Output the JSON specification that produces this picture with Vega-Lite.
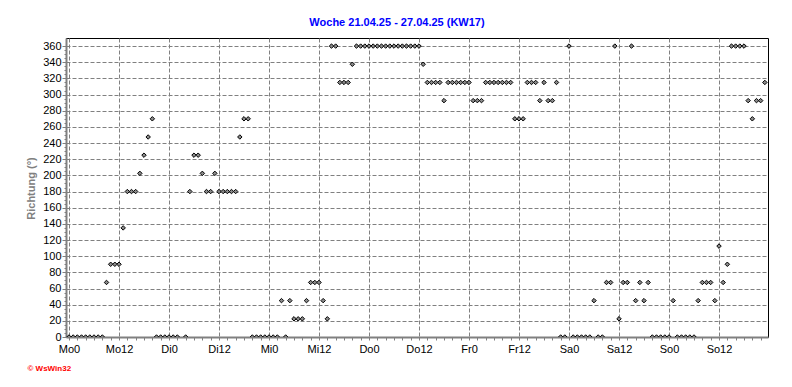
{
  "$schema": "https://vega.github.io/schema/vega-lite/v6.json",
  "autosize": "none",
  "width": 702,
  "height": 299,
  "padding": {"left": 66, "top": 38, "right": 24, "bottom": 50},
  "background": "white",
  "title": {"text": "Woche 21.04.25 - 27.04.25 (KW17)", "color": "#0000ff", "font": "Liberation Sans", "fontSize": 11, "fontWeight": "bold", "anchor": "middle", "dx": -20, "offset": 10},
  "config": {
    "view": {"stroke": "#000000", "strokeWidth": 1},
    "axis": {
      "labelFont": "Liberation Sans", "labelFontSize": 11, "labelColor": "#000000",
      "domainColor": "#808080", "domainWidth": 2,
      "tickColor": "#808080", "gridColor": "#808080", "gridDash": [4, 2], "gridWidth": 1,
      "titleFont": "Liberation Sans"
    }
  },
  "data": {"values": [
    {"h":0,"dir":0},{"h":1,"dir":0},{"h":2,"dir":0},{"h":3,"dir":0},{"h":4,"dir":0},{"h":5,"dir":0},{"h":6,"dir":0},{"h":7,"dir":0},{"h":8,"dir":0},
    {"h":9,"dir":67.5},{"h":10,"dir":90},{"h":11,"dir":90},{"h":12,"dir":90},{"h":13,"dir":135},
    {"h":14,"dir":180},{"h":15,"dir":180},{"h":16,"dir":180},{"h":17,"dir":202.5},{"h":18,"dir":225},{"h":19,"dir":247.5},{"h":20,"dir":270},
    {"h":21,"dir":0},{"h":22,"dir":0},{"h":23,"dir":0},{"h":24,"dir":0},{"h":25,"dir":0},{"h":26,"dir":0},{"h":28,"dir":0},
    {"h":29,"dir":180},{"h":30,"dir":225},{"h":31,"dir":225},{"h":32,"dir":202.5},{"h":33,"dir":180},{"h":34,"dir":180},{"h":35,"dir":202.5},
    {"h":36,"dir":180},{"h":37,"dir":180},{"h":38,"dir":180},{"h":39,"dir":180},{"h":40,"dir":180},
    {"h":41,"dir":247.5},{"h":42,"dir":270},{"h":43,"dir":270},
    {"h":44,"dir":0},{"h":45,"dir":0},{"h":46,"dir":0},{"h":47,"dir":0},{"h":48,"dir":0},{"h":49,"dir":0},{"h":50,"dir":0},
    {"h":51,"dir":45},{"h":52,"dir":0},{"h":53,"dir":45},{"h":54,"dir":22.5},{"h":55,"dir":22.5},{"h":56,"dir":22.5},{"h":57,"dir":45},
    {"h":58,"dir":67.5},{"h":59,"dir":67.5},{"h":60,"dir":67.5},{"h":61,"dir":45},{"h":62,"dir":22.5},
    {"h":63,"dir":360},{"h":64,"dir":360},{"h":65,"dir":315},{"h":66,"dir":315},{"h":67,"dir":315},{"h":68,"dir":337.5},
    {"h":69,"dir":360},{"h":70,"dir":360},{"h":71,"dir":360},{"h":72,"dir":360},{"h":73,"dir":360},{"h":74,"dir":360},{"h":75,"dir":360},{"h":76,"dir":360},
    {"h":77,"dir":360},{"h":78,"dir":360},{"h":79,"dir":360},{"h":80,"dir":360},{"h":81,"dir":360},{"h":82,"dir":360},{"h":83,"dir":360},{"h":84,"dir":360},
    {"h":85,"dir":337.5},{"h":86,"dir":315},{"h":87,"dir":315},{"h":88,"dir":315},{"h":89,"dir":315},{"h":90,"dir":292.5},
    {"h":91,"dir":315},{"h":92,"dir":315},{"h":93,"dir":315},{"h":94,"dir":315},{"h":95,"dir":315},{"h":96,"dir":315},
    {"h":97,"dir":292.5},{"h":98,"dir":292.5},{"h":99,"dir":292.5},
    {"h":100,"dir":315},{"h":101,"dir":315},{"h":102,"dir":315},{"h":103,"dir":315},{"h":104,"dir":315},{"h":105,"dir":315},{"h":106,"dir":315},
    {"h":107,"dir":270},{"h":108,"dir":270},{"h":109,"dir":270},
    {"h":110,"dir":315},{"h":111,"dir":315},{"h":112,"dir":315},{"h":113,"dir":292.5},{"h":114,"dir":315},{"h":115,"dir":292.5},{"h":116,"dir":292.5},{"h":117,"dir":315},
    {"h":118,"dir":0},{"h":119,"dir":0},{"h":120,"dir":360},
    {"h":121,"dir":0},{"h":122,"dir":0},{"h":123,"dir":0},{"h":124,"dir":0},{"h":125,"dir":0},{"h":126,"dir":45},{"h":127,"dir":0},{"h":128,"dir":0},
    {"h":129,"dir":67.5},{"h":130,"dir":67.5},{"h":131,"dir":360},{"h":132,"dir":22.5},{"h":133,"dir":67.5},{"h":134,"dir":67.5},{"h":135,"dir":360},
    {"h":136,"dir":45},{"h":137,"dir":67.5},{"h":138,"dir":45},{"h":139,"dir":67.5},
    {"h":140,"dir":0},{"h":141,"dir":0},{"h":142,"dir":0},{"h":143,"dir":0},{"h":144,"dir":0},{"h":145,"dir":45},
    {"h":146,"dir":0},{"h":147,"dir":0},{"h":148,"dir":0},{"h":149,"dir":0},{"h":150,"dir":0},
    {"h":151,"dir":45},{"h":152,"dir":67.5},{"h":153,"dir":67.5},{"h":154,"dir":67.5},{"h":155,"dir":45},{"h":156,"dir":112.5},{"h":157,"dir":67.5},{"h":158,"dir":90},
    {"h":159,"dir":360},{"h":160,"dir":360},{"h":161,"dir":360},{"h":162,"dir":360},
    {"h":163,"dir":292.5},{"h":164,"dir":270},{"h":165,"dir":292.5},{"h":166,"dir":292.5},{"h":167,"dir":315}
  ]},
  "mark": {"type": "point", "shape": "diamond", "filled": true, "size": 20, "fill": "#8a8a8a", "stroke": "#000000", "strokeWidth": 1, "opacity": 1, "clip": true},
  "encoding": {
    "x": {
      "field": "h", "type": "quantitative",
      "scale": {"domain": [-0.72, 167.76], "nice": false, "zero": false},
      "axis": {
        "values": [0,2,4,6,8,10,12,14,16,18,20,22,24,26,28,30,32,34,36,38,40,42,44,46,48,50,52,54,56,58,60,62,64,66,68,70,72,74,76,78,80,82,84,86,88,90,92,94,96,98,100,102,104,106,108,110,112,114,116,118,120,122,124,126,128,130,132,134,136,138,140,142,144,146,148,150,152,154,156,158,160,162,164,166],
        "labelExpr": "datum.value % 12 === 0 ? ['Mo','Di','Mi','Do','Fr','Sa','So'][floor(datum.value / 24)] + (datum.value % 24) : ''",
        "labelOverlap": false,
        "labelPadding": 3,
        "tickSize": 3,
        "grid": true,
        "gridOpacity": {"condition": {"test": "datum.value % 12 === 0", "value": 1}, "value": 0},
        "title": "© WsWin32",
        "titleColor": "#ff0000",
        "titleFontSize": 8,
        "titleFontWeight": "bold",
        "titleAlign": "left",
        "titleAnchor": "start",
        "titleBaseline": "middle",
        "titleX": -39,
        "titleY": 31
      }
    },
    "y": {
      "field": "dir", "type": "quantitative",
      "scale": {"domain": [0, 370], "nice": false},
      "axis": {
        "values": [0,5,10,15,20,25,30,35,40,45,50,55,60,65,70,75,80,85,90,95,100,105,110,115,120,125,130,135,140,145,150,155,160,165,170,175,180,185,190,195,200,205,210,215,220,225,230,235,240,245,250,255,260,265,270,275,280,285,290,295,300,305,310,315,320,325,330,335,340,345,350,355,360],
        "labelExpr": "datum.value % 20 === 0 ? datum.value : ''",
        "labelOverlap": false,
        "labelPadding": 1,
        "tickSize": {"condition": {"test": "datum.value % 20 === 0", "value": 4}, "value": 2},
        "grid": true,
        "gridOpacity": {"condition": {"test": "datum.value % 20 === 0", "value": 1}, "value": 0},
        "title": "Richtung (°)",
        "titleColor": "#808080",
        "titleFontSize": 11,
        "titleFontWeight": "bold",
        "titleAngle": 270,
        "titleAlign": "center",
        "titleBaseline": "middle",
        "titleX": -35,
        "titleY": 150
      }
    }
  }
}
